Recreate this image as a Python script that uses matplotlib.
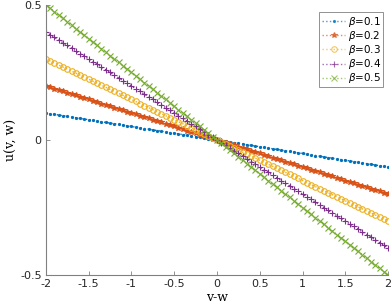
import numpy as np
import matplotlib.pyplot as plt

# values: u at v-w = -2 for each beta (lines pass through 0)
betas = [0.1, 0.2, 0.3, 0.4, 0.5]
u_left = [0.1, 0.2, 0.3, 0.4, 0.5]
labels = [r'$\beta$=0.1', r'$\beta$=0.2', r'$\beta$=0.3', r'$\beta$=0.4', r'$\beta$=0.5']
markers = ['.', '*', 'o', '+', 'x']
colors = ['#0072BD', '#D95319', '#EDB120', '#7E2F8E', '#77AC30']

x_ticks = [-2, -1.5, -1, -0.5, 0, 0.5, 1, 1.5, 2]
x_ticklabels = ['-2', '-1.5', '-1', '-0.5', '0', '0.5', '1', '1.5', '2']
y_ticks = [-0.5, 0, 0.5]
y_ticklabels = ['-0.5', '0', '0.5']

vw = np.linspace(-2, 2, 81)

fig = plt.figure(figsize=(3.92, 3.08), dpi=100)
ax = fig.add_axes([0.117, 0.107, 0.873, 0.877])

for ul, lab, m, c in zip(u_left, labels, markers, colors):
    slope = -ul / 2.0
    mfc = 'none' if m == 'o' else c
    ax.plot(vw, slope * vw, linestyle=':', linewidth=1.0, color=c,
            marker=m, markersize=4 if m != '.' else 3, markerfacecolor=mfc,
            markeredgewidth=0.8, label=lab)

ax.set_xlim(-2, 2)
ax.set_ylim(-0.5, 0.5)
ax.set_xticks(x_ticks)
ax.set_xticklabels(x_ticklabels)
ax.set_yticks(y_ticks)
ax.set_yticklabels(y_ticklabels)
ax.tick_params(direction='in', length=3, width=0.6, labelsize=8, pad=3,
               colors='#808080', labelcolor='#262626')
for s in ['top', 'right']:
    ax.spines[s].set_visible(False)
for s in ['left', 'bottom']:
    ax.spines[s].set_color('#808080')
    ax.spines[s].set_linewidth(0.8)

ax.set_xlabel('v-w', family='serif', fontsize=9, labelpad=1)
ax.set_ylabel('u(v, w)', family='serif', fontsize=9, labelpad=2)

leg = ax.legend(loc='upper right', bbox_to_anchor=(0.985, 0.972), fontsize=7.5,
                frameon=True, fancybox=False, framealpha=1, numpoints=1,
                edgecolor='#808080', handlelength=2.3, borderpad=0.2,
                labelspacing=0.02, handletextpad=0.2, borderaxespad=0)
leg.get_frame().set_linewidth(0.6)
for h in leg.legend_handles:
    h.set_alpha(0.7)

fig.savefig('out.png', dpi=100)
